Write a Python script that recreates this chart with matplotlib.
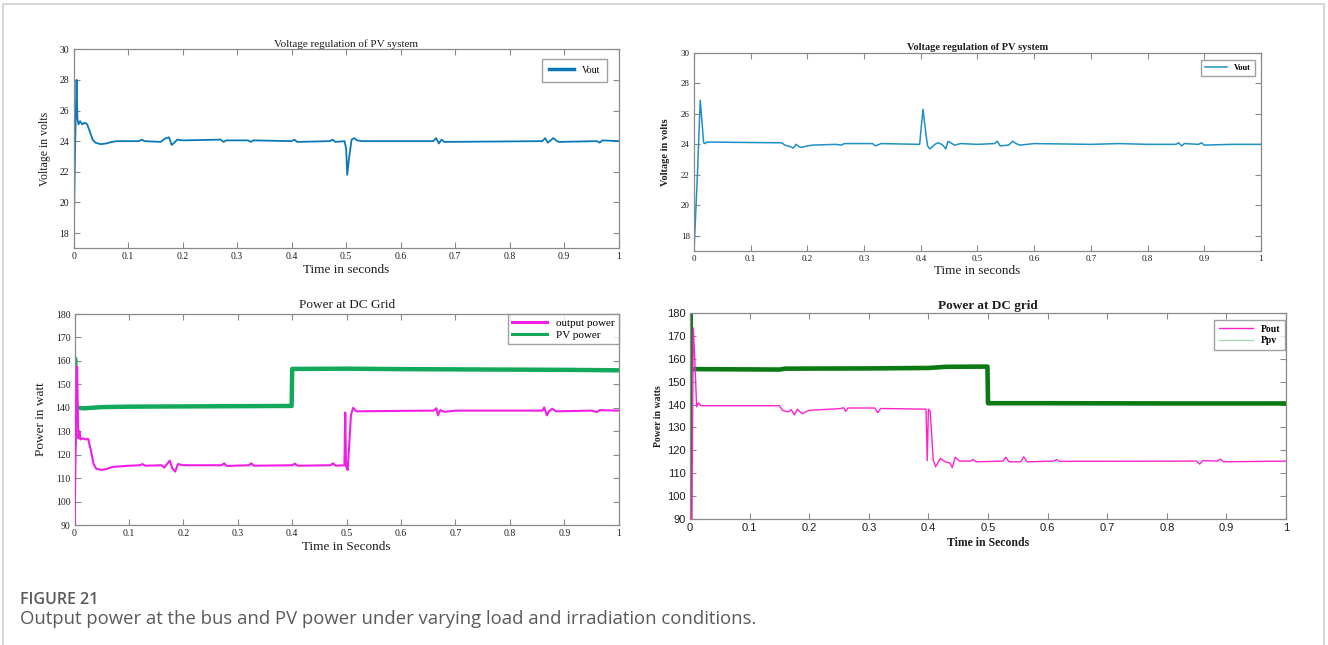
import numpy as np
import matplotlib
matplotlib.use("Agg")
import matplotlib.pyplot as plt
from matplotlib.patches import Rectangle

# ---- data (time in s, value) ----
vout_a = [
    (0.0, 17.0), (0.003, 24.0), (0.0055, 28.0), (0.007, 25.5), (0.009, 25.1),
    (0.012, 25.3), (0.016, 25.1), (0.02, 25.2), (0.025, 25.1), (0.03, 24.6),
    (0.035, 24.1), (0.04, 23.9), (0.045, 23.85), (0.05, 23.8), (0.06, 23.85),
    (0.07, 23.95), (0.08, 24.0), (0.1, 24.0), (0.12, 24.0), (0.125, 24.1),
    (0.13, 24.0), (0.16, 23.95), (0.165, 24.1), (0.17, 24.2), (0.175, 24.25),
    (0.18, 23.75), (0.185, 23.9), (0.19, 24.1), (0.2, 24.05), (0.27, 24.1),
    (0.275, 23.95), (0.28, 24.05), (0.32, 24.05), (0.325, 23.95), (0.33, 24.05),
    (0.4, 24.0), (0.405, 24.1), (0.41, 23.95), (0.47, 24.0), (0.475, 24.1),
    (0.48, 23.95), (0.497, 24.0), (0.5, 23.5), (0.502, 21.8), (0.505, 22.8),
    (0.51, 24.1), (0.515, 24.2), (0.52, 24.05), (0.53, 24.0), (0.6, 24.0),
    (0.66, 24.0), (0.665, 24.2), (0.67, 23.85), (0.675, 24.1), (0.68, 23.95),
    (0.86, 24.0), (0.865, 24.2), (0.87, 23.9), (0.88, 24.2), (0.885, 24.05),
    (0.89, 23.95), (0.96, 24.0), (0.965, 23.9), (0.97, 24.05), (1.0, 24.0),
]
vout_b = [
    (0.0, 17.0), (0.006, 22.0), (0.011, 26.9), (0.014, 25.5), (0.017, 24.1),
    (0.02, 24.05), (0.022, 24.15), (0.155, 24.1), (0.16, 23.95), (0.17, 23.85),
    (0.175, 23.75), (0.18, 24.0), (0.185, 23.85), (0.19, 23.8), (0.2, 23.9),
    (0.21, 23.95), (0.25, 24.0), (0.26, 23.95), (0.265, 24.05), (0.3, 24.05),
    (0.315, 24.05), (0.32, 23.9), (0.33, 24.05), (0.398, 24.0), (0.401, 25.2),
    (0.404, 26.3), (0.408, 25.0), (0.412, 23.9), (0.416, 23.7), (0.425, 24.0),
    (0.43, 24.1), (0.437, 24.0), (0.44, 23.9), (0.444, 23.7), (0.448, 24.2),
    (0.455, 24.05), (0.46, 23.95), (0.47, 24.05), (0.5, 24.0), (0.53, 24.05),
    (0.535, 24.2), (0.54, 23.9), (0.555, 23.95), (0.562, 24.2), (0.568, 24.05),
    (0.575, 23.95), (0.6, 24.05), (0.7, 24.0), (0.75, 24.05), (0.8, 24.0),
    (0.85, 24.0), (0.855, 24.1), (0.86, 23.9), (0.865, 24.05), (0.89, 24.0),
    (0.895, 24.1), (0.9, 23.95), (0.95, 24.0), (1.0, 24.0),
]
pout_a = [
    (0.0, 90.0), (0.003, 140.0), (0.0048, 157.5), (0.007, 127.0), (0.009, 130.0),
    (0.011, 126.5), (0.015, 127.0), (0.02, 126.5), (0.025, 126.8), (0.03, 122.0),
    (0.035, 116.0), (0.04, 114.0), (0.05, 113.5), (0.06, 114.0), (0.07, 114.8),
    (0.1, 115.3), (0.12, 115.5), (0.125, 116.0), (0.13, 115.3), (0.16, 115.5),
    (0.165, 114.5), (0.17, 116.0), (0.175, 117.5), (0.18, 114.0), (0.185, 112.8),
    (0.19, 116.0), (0.2, 115.5), (0.27, 115.5), (0.275, 116.3), (0.28, 115.2),
    (0.32, 115.5), (0.325, 116.3), (0.33, 115.3), (0.4, 115.5), (0.405, 116.2),
    (0.41, 115.3), (0.47, 115.5), (0.475, 116.3), (0.48, 115.3), (0.496, 115.5),
    (0.4975, 138.0), (0.499, 115.0), (0.502, 113.5), (0.505, 125.0), (0.508, 137.0),
    (0.512, 140.0), (0.518, 138.5), (0.6, 138.7), (0.66, 138.8), (0.665, 139.8),
    (0.668, 136.8), (0.672, 139.0), (0.68, 138.3), (0.7, 138.8), (0.86, 138.8),
    (0.863, 140.2), (0.868, 136.8), (0.872, 138.5), (0.878, 139.6), (0.885, 138.5),
    (0.95, 138.8), (0.96, 138.2), (0.965, 139.0), (1.0, 138.8),
]
ppv_a = [
    (0.0, 125.0), (0.001, 161.0), (0.002, 140.0), (0.02, 139.8), (0.03, 140.0),
    (0.05, 140.3), (0.1, 140.5), (0.2, 140.6), (0.3, 140.7), (0.399, 140.8),
    (0.4, 156.6), (0.5, 156.7), (0.6, 156.5), (0.7, 156.4), (0.8, 156.3),
    (0.9, 156.2), (1.0, 156.0),
]
pout_b = [
    (0.0, 90.0), (0.003, 90.0), (0.0055, 173.5), (0.008, 160.0), (0.011, 139.0),
    (0.014, 140.8), (0.018, 139.5), (0.15, 139.5), (0.155, 137.5), (0.165, 136.8),
    (0.17, 137.8), (0.175, 135.5), (0.18, 138.0), (0.188, 136.0), (0.2, 137.5),
    (0.25, 138.2), (0.258, 138.6), (0.261, 137.0), (0.265, 138.5), (0.31, 138.5),
    (0.315, 136.5), (0.32, 138.3), (0.396, 138.0), (0.398, 115.5), (0.4, 138.0),
    (0.403, 137.0), (0.408, 116.0), (0.412, 112.8), (0.42, 116.5), (0.428, 115.0),
    (0.436, 114.5), (0.44, 112.5), (0.445, 117.0), (0.452, 115.3), (0.47, 115.3),
    (0.475, 116.0), (0.48, 115.0), (0.525, 115.3), (0.53, 117.0), (0.535, 115.0),
    (0.555, 115.0), (0.56, 117.2), (0.565, 115.0), (0.61, 115.3), (0.615, 116.0),
    (0.62, 115.2), (0.85, 115.3), (0.855, 114.0), (0.86, 115.5), (0.885, 115.3),
    (0.89, 116.2), (0.895, 115.0), (1.0, 115.3),
]
ppv_b = [
    (0.0, 90.0), (0.0005, 180.0), (0.001, 155.5), (0.15, 155.3), (0.16, 155.7),
    (0.3, 155.8), (0.4, 156.0), (0.43, 156.5), (0.499, 156.6), (0.5, 140.6),
    (0.6, 140.6), (0.8, 140.5), (1.0, 140.5),
]

x_ticks = [0, 0.1, 0.2, 0.3, 0.4, 0.5, 0.6, 0.7, 0.8, 0.9, 1]
x_labels = ["0", "0.1", "0.2", "0.3", "0.4", "0.5", "0.6", "0.7", "0.8", "0.9", "1"]
v_ticks = [18, 20, 22, 24, 26, 28, 30]
p_ticks = [90, 100, 110, 120, 130, 140, 150, 160, 170, 180]

SERIF = "Liberation Serif"
SANS = "Liberation Sans"
TXT = "#1e1e1e"
SPINE = "#8a8a8a"


def split(pairs):
    arr = np.array(pairs)
    return arr[:, 0], arr[:, 1]


def style_axes(ax, ylim, yticks, tick_font, tick_size):
    ax.set_xlim(0, 1)
    ax.set_ylim(*ylim)
    ax.set_xticks(x_ticks)
    ax.set_xticklabels(x_labels)
    ax.set_yticks(yticks)
    ax.tick_params(direction="in", top=True, right=True, length=4, width=0.8,
                   color=SPINE, labelcolor=TXT, labelsize=tick_size, pad=3)
    for lab in ax.get_xticklabels() + ax.get_yticklabels():
        lab.set_family(tick_font)
    for s in ax.spines.values():
        s.set_color(SPINE)
        s.set_linewidth(0.9)


fig = plt.figure(figsize=(13.28, 6.45), dpi=100)

# frame around figure
fig.patches.append(Rectangle((0.0025, -0.05), 0.9945, 1.044, transform=fig.transFigure,
                             fill=False, edgecolor="#cfcfcf", linewidth=1.2))

# ---- top left ----
ax1 = fig.add_axes([0.0554, 0.615, 0.4105, 0.3086])
t, v = split(vout_a)
ax1.plot(t, v, color="#0a78b8", lw=1.3, label="Vout")
style_axes(ax1, (17, 30), v_ticks, SERIF, 7)
ax1.set_title("Voltage regulation of PV system", family=SERIF, fontsize=8, color=TXT, pad=2)
ax1.set_xlabel("Time in seconds", family=SERIF, fontsize=9.5, color=TXT, labelpad=2)
ax1.set_ylabel("Voltage in volts", family=SERIF, fontsize=8.5, color=TXT, labelpad=6)
leg = ax1.legend(loc="upper right", bbox_to_anchor=(0.979, 0.951), borderaxespad=0,
                 prop={"family": SERIF, "size": 7},
                 frameon=True, fancybox=False, edgecolor=SPINE, handlelength=2.6, borderpad=0.7)
leg.get_lines()[0].set_linewidth(2.5)

# ---- top right ----
ax2 = fig.add_axes([0.5226, 0.6109, 0.4269, 0.307])
t, v = split(vout_b)
ax2.plot(t, v, color="#1e90c8", lw=1.1, label="Vout")
style_axes(ax2, (17, 30), v_ticks, SERIF, 6.5)
ax2.set_title("Voltage regulation of PV system", family=SERIF, fontsize=7.5, weight="bold",
              color=TXT, pad=2)
ax2.set_xlabel("Time in seconds", family=SERIF, fontsize=9.5, color=TXT, labelpad=1)
ax2.set_ylabel("Voltage in volts", family=SERIF, fontsize=7.5, weight="bold", color=TXT, labelpad=8)
leg = ax2.legend(loc="upper right", bbox_to_anchor=(0.989, 0.965), borderaxespad=0,
                 prop={"family": SERIF, "size": 6, "weight": "bold"},
                 frameon=True, fancybox=False, edgecolor=SPINE, handlelength=2.6, borderpad=0.5)

# ---- bottom left ----
ax3 = fig.add_axes([0.0561, 0.186, 0.4098, 0.3271])
t, v = split(pout_a)
ax3.plot(t, v, color="#f21ee6", lw=1.5, label="output power", zorder=3)
t, v = split(ppv_a)
ax3.plot(t, v, color="#12a95a", lw=3.2, label="PV power", zorder=2)
style_axes(ax3, (90, 180), p_ticks, SERIF, 7)
ax3.set_title("Power at DC Grid", family=SERIF, fontsize=9.5, color=TXT, pad=4)
ax3.set_xlabel("Time in Seconds", family=SERIF, fontsize=9.5, color=TXT, labelpad=2)
ax3.set_ylabel("Power in watt", family=SERIF, fontsize=9.5, color=TXT, labelpad=6)
leg = ax3.legend(loc="upper right", bbox_to_anchor=(1.0, 1.0), borderaxespad=0,
                 prop={"family": SERIF, "size": 8},
                 frameon=True, fancybox=False, edgecolor=SPINE, handlelength=3.2,
                 borderpad=0.35, labelspacing=0.2)
for ln in leg.get_lines():
    ln.set_linewidth(2.2)

# ---- bottom right ----
ax4 = fig.add_axes([0.5196, 0.1953, 0.4488, 0.3194])
t, v = split(pout_b)
ax4.plot(t, v, color="#ff22cc", lw=1.0, label="Pout", zorder=3)
t, v = split(ppv_b)
ax4.plot(t, v, color="#0c7a14", lw=3.3, label="Ppv", zorder=2)
style_axes(ax4, (90, 180), p_ticks, SANS, 8)
ax4.set_title("Power at DC grid", family=SERIF, fontsize=9.5, weight="bold", color=TXT, pad=3)
ax4.set_xlabel("Time in Seconds", family=SERIF, fontsize=8.5, weight="bold", color=TXT, labelpad=3)
ax4.set_ylabel("Power in watts", family=SERIF, fontsize=7, weight="bold", color=TXT, labelpad=3)
leg = ax4.legend(loc="upper right", bbox_to_anchor=(0.998, 0.966), borderaxespad=0,
                 prop={"family": SERIF, "size": 7, "weight": "bold"},
                 frameon=True, fancybox=False, edgecolor=SPINE, handlelength=3.5,
                 borderpad=0.5, labelspacing=0.25)
leg.get_lines()[0].set_linewidth(1.0)
leg.get_lines()[1].set_linewidth(1.0)
leg.get_lines()[1].set_color("#a8dcb0")

# ---- caption ----
fig.text(0.015, 1 - 600 / 645, "FIGURE 21", family="Open Sans", weight="semibold",
         fontsize=11.5, color="#5a5a5a", va="center")
fig.text(0.015, 1 - 619 / 645,
         "Output power at the bus and PV power under varying load and irradiation conditions.",
         family="Open Sans", fontsize=13.3, color="#5a5a5a", va="center")

fig.savefig("out.png", dpi=100)
